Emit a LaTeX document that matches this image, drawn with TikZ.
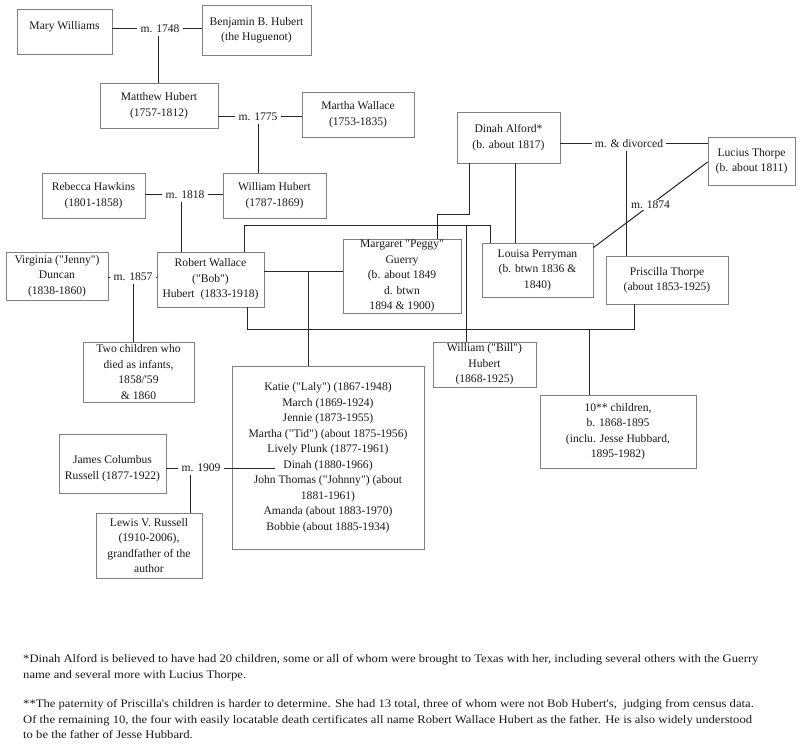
\documentclass[tikz,border=0pt]{standalone}
\usepackage{fontspec}
\setmainfont{Liberation Serif}[Ligatures=TeXOff]
\newfontfamily\footfont{Liberation Serif}[FakeStretch=1.1, Ligatures=TeXOff]
\usetikzlibrary{calc}
\begin{document}
\begin{tikzpicture}[x=1pt,y=-1pt,
  box/.style={draw=black!50, line width=0.7pt, align=center, inner sep=0pt,
    font=\fontsize{11.6}{15.5}\selectfont, text=black!90},
  lbl/.style={inner sep=3pt, font=\fontsize{11.6}{14}\selectfont, text=black!90},
  conn/.style={draw=black!85, line width=1pt},
  foot/.style={anchor=base west, inner sep=0pt, font=\footfont\fontsize{11.5}{13}\selectfont, text=black!90}]
\useasboundingbox (0,0) rectangle (800,754);
% boxes
\node[box, minimum width=95pt, minimum height=45pt] (mary) at (64.5,31.5) {Mary Williams\rule[-12pt]{0pt}{0pt}};
\node[box, minimum width=109pt, minimum height=50pt] (ben) at (256.5,30) {Benjamin B. Hubert\\(the Huguenot)};
\node[box, minimum width=118pt, minimum height=45pt] (matthew) at (159,105.5) {Matthew Hubert\\(1757-1812)};
\node[box, minimum width=112pt, minimum height=45pt] (martha) at (358,114.5) {Martha Wallace\\(1753-1835)};
\node[box, minimum width=103pt, minimum height=45pt] (rebecca) at (93.5,195.5) {Rebecca Hawkins\\(1801-1858)};
\node[box, minimum width=103pt, minimum height=45pt] (william) at (274.5,195.5) {William Hubert\\(1787-1869)};
\node[box, minimum width=102pt, minimum height=48pt] (virginia) at (57,276) {Virginia ("Jenny")\\Duncan\\(1838-1860)};
\node[box, minimum width=107pt, minimum height=55pt] (robert) at (210.5,279.5) {Robert Wallace\\("Bob")\\Hubert~ (1833-1918)};
\node[box, minimum width=111pt, minimum height=60pt] (twokids) at (138.5,372) {Two children who\\died as infants,\\1858/'59\\\& 1860};
\node[box, minimum width=118pt, minimum height=74pt] (margaret) at (402,276) {Margaret "Peggy"\\Guerry\\(b. about 1849\\d. btwn\\1894 \& 1900)};
\node[box, minimum width=103pt, minimum height=51pt] (dinah) at (508.5,137.5) {Dinah Alford*\\(b. about 1817)};
\node[box, minimum width=87pt, minimum height=48pt] (lucius) at (751.5,161) {Lucius Thorpe\\(b. about 1811)};
\node[box, minimum width=111pt, minimum height=54pt] (louisa) at (537.5,270) {Louisa Perryman\\(b. btwn 1836 \&\\1840)};
\node[box, minimum width=122pt, minimum height=48pt] (priscilla) at (667,280) {Priscilla Thorpe\\(about 1853-1925)};
\node[box, minimum width=103pt, minimum height=45pt] (bill) at (484.5,364.5) {William ("Bill")\\Hubert\\(1868-1925)};
\node[box, minimum width=192pt, minimum height=183pt] (katie) at (328,457.5) {Katie ("Laly") (1867-1948)\\March (1869-1924)\\Jennie (1873-1955)\\Martha ("Tid") (about 1875-1956)\\Lively Plunk (1877-1961)\\Dinah (1880-1966)\\John Thomas ("Johnny") (about\\1881-1961)\\Amanda (about 1883-1970)\\Bobbie (about 1885-1934)};
\node[box, minimum width=156pt, minimum height=73pt] (tenkids) at (618,431.5) {10** children,\\b. 1868-1895\\(inclu. Jesse Hubbard,\\1895-1982)};
\node[box, minimum width=107pt, minimum height=59pt] (james) at (112.5,463.5) {\rule{0pt}{18pt}James Columbus\\Russell (1877-1922)};
\node[box, minimum width=106pt, minimum height=65pt] (lewis) at (149,545.5) {Lewis V. Russell\\(1910-2006),\\grandfather of the\\author};
% marriage labels
\node[lbl] (m1748) at (160,29) {m. 1748};
\node[lbl] (m1775) at (258,117) {m. 1775};
\node[lbl] (m1818) at (185,195) {m. 1818};
\node[lbl] (m1857) at (133,277) {m. 1857};
\node[lbl] (mdiv) at (629,144) {m. \& divorced};
\node[lbl] (m1909) at (201,468) {m. 1909};
% connectors
\draw[conn] (mary.east |- m1748) -- (m1748.west);
\draw[conn] (m1748.east) -- (ben.west |- m1748);
\draw[conn] ([xshift=-2pt]m1748.south) coordinate (v1) -- (v1 |- matthew.north);
\draw[conn] (matthew.east |- m1775) -- (m1775.west);
\draw[conn] (m1775.east) -- (martha.west |- m1775);
\draw[conn] (m1775.south) -- (m1775.south |- william.north);
\draw[conn] (rebecca.east |- m1818) -- (m1818.west);
\draw[conn] (m1818.east) -- (william.west |- m1818);
\draw[conn] ([xshift=-4pt]m1818.south) coordinate (v2) -- (v2 |- robert.north);
\draw[conn] (virginia.east |- m1857) -- (m1857.west);
\draw[conn] (m1857.east) -- (robert.west |- m1857);
\draw[conn] (m1857.south) -- (m1857.south |- twokids.north);
\draw[conn] (dinah.east |- mdiv) -- (mdiv.west);
\draw[conn] (mdiv.east) -- (lucius.west |- mdiv);
\draw[conn] ([xshift=-3pt]mdiv.south) coordinate (v3) -- (v3 |- priscilla.north);
\draw[conn] ([yshift=-5pt]louisa.north east) -- node[lbl, fill=white, inner sep=1pt] (m1874) {m. 1874} ([yshift=-1pt]lucius.west);
\draw[conn] ([xshift=6.5pt]dinah.south) coordinate (v4) -- (v4 |- louisa.north);
\draw[conn] ([xshift=-39.5pt]dinah.south) -- ++(0,51) -| ([xshift=35pt]margaret.north);
% Robert & Louisa -> Bill
\draw[conn] ([xshift=33.5pt]robert.north) -- ++(0,-26) coordinate (rlL) -| ([xshift=-47.5pt]louisa.north);
\coordinate (rlc) at (466,226);
\draw[conn] (rlc) -- (rlc |- bill.north);
% Robert & Margaret -> Katie etc.
\coordinate (rmc) at (308,271);
\draw[conn] (robert.east |- rmc) -- (margaret.west |- rmc);
\draw[conn] (rmc) -- (rmc |- katie.north);
% Robert & Priscilla -> 10 children
\coordinate (rpL) at (247,329);
\coordinate (rpR) at (634,329);
\draw[conn] (rpL |- robert.south) -- (rpL) -- (rpR) -- (rpR |- priscilla.south);
\coordinate (rpc) at (589,329);
\draw[conn] (rpc) -- (rpc |- tenkids.north);
% James & Dinah -> Lewis
\coordinate (dinahline) at (275,468);
\draw[conn] (james.east |- m1909) -- (m1909.west);
\draw[conn] (m1909.east) -- (dinahline);
\draw[conn] ([xshift=-11pt]m1909.south) coordinate (v5) -- (v5 |- lewis.north);
% footnotes
\node[foot] (f1) at (23,662) {*Dinah Alford is believed to have had 20 children, some or all of whom were brought to Texas with her, including several others with the Guerry};
\node[foot] (f2) at (23,678) {name and several more with Lucius Thorpe.};
\node[foot] (f3) at (23,707) {**The paternity of Priscilla's children is harder to determine. She had 13 total, three of whom were not Bob Hubert's,~ judging from census data.};
\node[foot] (f4) at (23,723) {Of the remaining 10, the four with easily locatable death certificates all name Robert Wallace Hubert as the father. He is also widely understood};
\node[foot] (f5) at (23,738) {to be the father of Jesse Hubbard.};
\end{tikzpicture}
\end{document}
